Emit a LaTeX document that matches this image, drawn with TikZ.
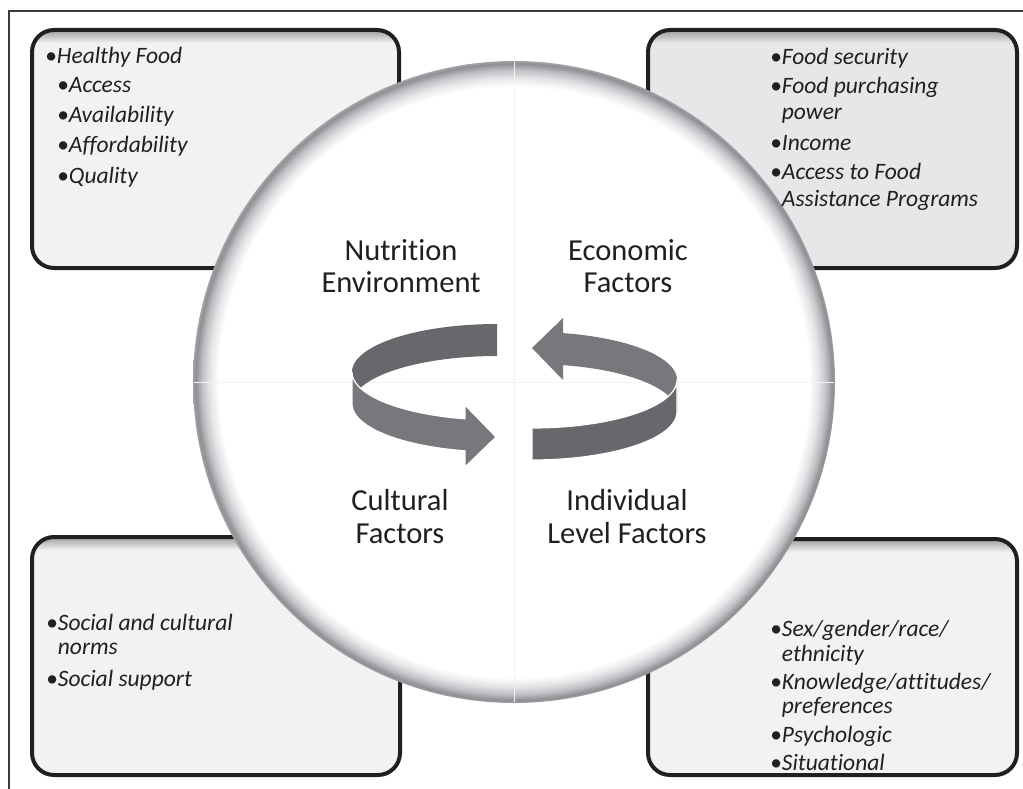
\documentclass[tikz,border=0pt]{standalone}
\usepackage{fontspec}
\setmainfont{Carlito}[Ligatures=NoCommon]
\definecolor{inkblack}{HTML}{231F20}
\definecolor{framegray}{HTML}{3A3A3C}
\definecolor{panelfill}{HTML}{F1F2F2}
\definecolor{panelfilldark}{HTML}{E6E7E8}
\definecolor{ribbondark}{HTML}{67686C}
\definecolor{ribbonlight}{HTML}{77787C}
\definecolor{rimfaint}{HTML}{E4E5E7}
\definecolor{rimsoft}{HTML}{BFC0C3}
\definecolor{rimdeep}{HTML}{8E8F93}
\definecolor{rimedge}{HTML}{A3A4A8}
\definecolor{seamgray}{HTML}{F3F3F3}
% white disc with a grey rim fading inwards
\pgfdeclareradialshading{discrim}{\pgfpoint{0bp}{0bp}}{%
  color(0bp)=(white); color(23.0bp)=(white); color(23.7bp)=(rimfaint);
  color(24.3bp)=(rimsoft); color(24.8bp)=(rimdeep); color(25bp)=(rimedge);
  color(50bp)=(rimedge)}
% rounded panel with a soft shadow under its top edge
\newcommand\drawpanel[5]{%
  \begin{scope}
    \clip[rounded corners=22pt] (#2,#3) rectangle (#4,#5);
    \fill[#1] (#2,#3) rectangle (#4,#5);
    \shade[top color=black!38, bottom color=#1] (#2,#3) rectangle (#4,#3+13);
  \end{scope}
  \draw[panel] (#2,#3) rectangle (#4,#5);
}
\begin{document}
\begin{tikzpicture}[x=1pt,y=-1pt,
  panel/.style={draw=inkblack, line width=4pt, rounded corners=22pt},
  item/.style={anchor=base west, inner sep=0pt, text=inkblack,
    font=\fontsize{23.5}{26}\selectfont\itshape},
  factor/.style={anchor=base, inner sep=0pt, text=inkblack,
    font=\fontsize{30.5}{32}\selectfont},
  seam/.style={line width=1pt, seamgray}]
\useasboundingbox (0,0) rectangle (1023,789);
\fill[white] (0,0) rectangle (1023,789);

% outer frame (top and left rules)
\draw[line width=1.2pt, framegray] (1023,11) -- (9,11) -- (9,789);

% corner panels
\drawpanel{panelfill}{32}{30}{399}{268}
\drawpanel{panelfilldark}{648}{30}{1017}{268}
\drawpanel{panelfill}{32}{537}{400}{775}
\drawpanel{panelfill}{648}{539}{1017}{775}

% central disc
\shade[shading=discrim] (514,382) circle [radius=321pt];
\draw[seam] (514,62) -- (514,702);
\draw[seam] (194,382) -- (834,382);

% cycle arrows: left ribbon
\fill[ribbondark]
  plot[domain=90:180, samples=40] ({497+145*cos(\x)},{372-48*sin(\x)})
  -- plot[domain=180:90, samples=40] ({497+145*cos(\x)},{404-48*sin(\x)})
  -- cycle;
\filldraw[fill=ribbonlight, draw=white, line width=1.2pt, line join=round]
  plot[domain=180:257.3, samples=40] ({497+145*cos(\x)},{372-48*sin(\x)})
  -- (465,405) -- (496,437) -- (465,467)
  -- plot[domain=257.3:180, samples=40] ({497+145*cos(\x)},{404-48*sin(\x)})
  -- cycle;
% cycle arrows: right ribbon
\fill[ribbonlight]
  plot[domain=0:77.6, samples=40] ({532+145*cos(\x)},{380-48*sin(\x)})
  -- (563,318) -- (532,348) -- (563,380)
  -- plot[domain=77.6:0, samples=40] ({532+145*cos(\x)},{412-48*sin(\x)})
  -- cycle;
\filldraw[fill=ribbondark, draw=white, line width=1.2pt, line join=round]
  plot[domain=270:360, samples=40] ({532+145*cos(\x)},{380-48*sin(\x)})
  -- plot[domain=360:270, samples=40] ({532+145*cos(\x)},{412-48*sin(\x)})
  -- cycle;

% quadrant titles
\node[factor] (nut1) at (401,260) {Nutrition};
\node[factor] (nut2) at (401,292) {Environment};
\node[factor] (eco1) at (628,260) {Economic};
\node[factor] (eco2) at (628,292) {Factors};
\node[factor] (cul1) at (400,510) {Cultural};
\node[factor] (cul2) at (400,543) {Factors};
\node[factor] (ind1) at (627,510) {Individual};
\node[factor] (ind2) at (627,543) {Level Factors};

% nutrition environment list
\node[item] (tl1) at (45,64) {•Healthy Food};
\node[item] (tl2) at (57,93) {•Access};
\node[item] (tl3) at (57,123) {•Availability};
\node[item] (tl4) at (57,153) {•Affordability};
\node[item] (tl5) at (57,183) {•Quality};

% economic factors list
\node[item] (tr1) at (770,65) {•Food security};
\node[item] (tr2) at (770,94) {•Food purchasing};
\node[item] (tr3) at (770,120) {\phantom{•}power};
\node[item] (tr4) at (770,150) {•Income};
\node[item] (tr5) at (770,179) {•Access to Food};
\node[item] (tr6) at (770,206) {\phantom{•}Assistance Programs};

% cultural factors list
\node[item] (bl1) at (46,630) {•Social and cultural};
\node[item] (bl2) at (46,654) {\phantom{•}norms};
\node[item] (bl3) at (46,686) {•Social support};

% individual level factors list
\node[item] (br1) at (770,636) {•Sex/gender/race/};
\node[item] (br2) at (770,661) {\phantom{•}ethnicity};
\node[item] (br3) at (770,689) {•Knowledge/attitudes/};
\node[item] (br4) at (770,713) {\phantom{•}preferences};
\node[item] (br5) at (770,742) {•Psychologic};
\node[item] (br6) at (770,770) {•Situational};
\end{tikzpicture}
\end{document}
